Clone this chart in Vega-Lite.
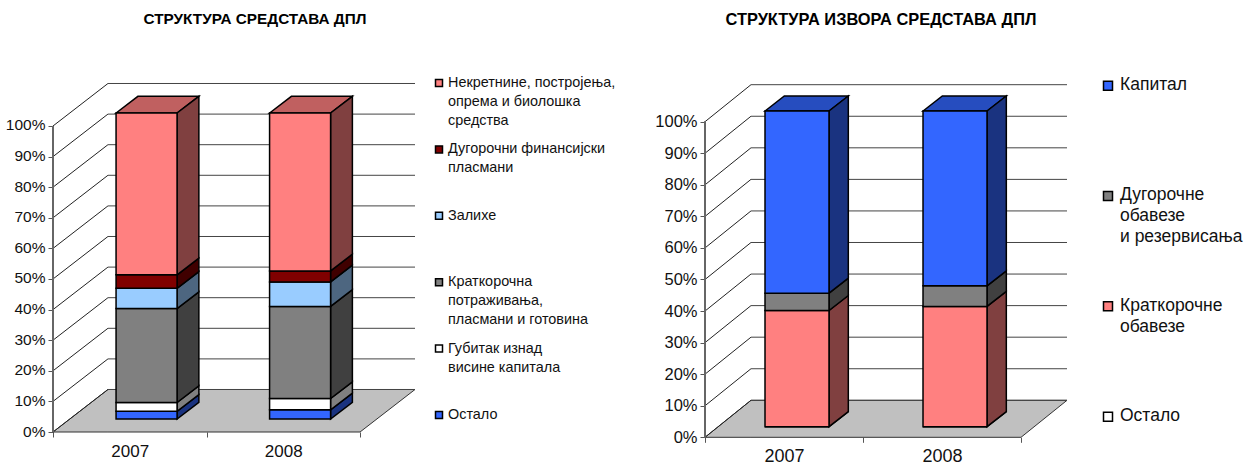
{
"$schema":"https://vega.github.io/schema/vega-lite/v6.json",
"padding":{"left":5,"top":12,"right":0,"bottom":10},
"background":"white",
"config":{"view":{"stroke":null},"font":"Liberation Sans","scale":{"continuousPadding":0},"axis":{"labelFont":"Liberation Sans","labelColor":"#111","tickColor":"#555","grid":false}},
"bounds":"flush",
"spacing":0,
"resolve":{"scale":{"fill":"independent"}},
"datasets":{
"assets":[
{"year":2007,"series":"Остало","rank":1,"value":2.5,"depth":[0,1]},
{"year":2007,"series":"Губитак изнад висине капитала","rank":2,"value":2.9,"depth":[0,1]},
{"year":2007,"series":"Краткорочна потраживања, пласмани и готовина","rank":3,"value":30.7,"depth":[0,1]},
{"year":2007,"series":"Залихе","rank":4,"value":6.6,"depth":[0,1]},
{"year":2007,"series":"Дугорочни финансијски пласмани","rank":5,"value":4.4,"depth":[0,1]},
{"year":2007,"series":"Некретнине, постројења, опрема и биолошка средства","rank":6,"value":52.9,"depth":[0,1]},
{"year":2008,"series":"Остало","rank":1,"value":3.0,"depth":[0,1]},
{"year":2008,"series":"Губитак изнад висине капитала","rank":2,"value":3.7,"depth":[0,1]},
{"year":2008,"series":"Краткорочна потраживања, пласмани и готовина","rank":3,"value":30.1,"depth":[0,1]},
{"year":2008,"series":"Залихе","rank":4,"value":8.0,"depth":[0,1]},
{"year":2008,"series":"Дугорочни финансијски пласмани","rank":5,"value":3.6,"depth":[0,1]},
{"year":2008,"series":"Некретнине, постројења, опрема и биолошка средства","rank":6,"value":51.6,"depth":[0,1]}
],
"sources":[
{"year":2007,"series":"Остало","rank":1,"value":0,"depth":[0,1]},
{"year":2007,"series":"Краткорочне обавезе","rank":2,"value":36.8,"depth":[0,1]},
{"year":2007,"series":"Дугорочне обавезе и резервисања","rank":3,"value":5.5,"depth":[0,1]},
{"year":2007,"series":"Капитал","rank":4,"value":57.7,"depth":[0,1]},
{"year":2008,"series":"Остало","rank":1,"value":0,"depth":[0,1]},
{"year":2008,"series":"Краткорочне обавезе","rank":2,"value":38.1,"depth":[0,1]},
{"year":2008,"series":"Дугорочне обавезе и резервисања","rank":3,"value":6.5,"depth":[0,1]},
{"year":2008,"series":"Капитал","rank":4,"value":55.4,"depth":[0,1]}
],
"grid":[{"pct":0,"depth":[0,1]},{"pct":10,"depth":[0,1]},{"pct":20,"depth":[0,1]},{"pct":30,"depth":[0,1]},{"pct":40,"depth":[0,1]},{"pct":50,"depth":[0,1]},{"pct":60,"depth":[0,1]},{"pct":70,"depth":[0,1]},{"pct":80,"depth":[0,1]},{"pct":90,"depth":[0,1]},{"pct":100,"depth":[0,1]}],
"floorA":[{"x":2006.5,"hi":0,"lo":0},{"x":2006.858,"hi":13.89,"lo":0},{"x":2008.5,"hi":13.89,"lo":0},{"x":2008.858,"hi":13.89,"lo":13.89}],
"floorB":[{"x":2006.5,"hi":0,"lo":0},{"x":2006.791,"hi":11.72,"lo":0},{"x":2008.5,"hi":11.72,"lo":0},{"x":2008.791,"hi":11.72,"lo":11.72}],
"topsA":[
{"bar":2007,"x":2006.911,"hi":104.25,"lo":104.25},{"bar":2007,"x":2007.053,"hi":109.7,"lo":104.25},{"bar":2007,"x":2007.308,"hi":109.7,"lo":104.25},{"bar":2007,"x":2007.45,"hi":109.7,"lo":109.7},
{"bar":2008,"x":2007.911,"hi":104.25,"lo":104.25},{"bar":2008,"x":2008.053,"hi":109.7,"lo":104.25},{"bar":2008,"x":2008.308,"hi":109.7,"lo":104.25},{"bar":2008,"x":2008.45,"hi":109.7,"lo":109.7}],
"topsB":[
{"bar":2007,"x":2006.88,"hi":103.39,"lo":103.39},{"bar":2007,"x":2007.002,"hi":108.15,"lo":103.39},{"bar":2007,"x":2007.285,"hi":108.15,"lo":103.39},{"bar":2007,"x":2007.407,"hi":108.15,"lo":108.15},
{"bar":2008,"x":2007.88,"hi":103.39,"lo":103.39},{"bar":2008,"x":2008.002,"hi":108.15,"lo":103.39},{"bar":2008,"x":2008.285,"hi":108.15,"lo":103.39},{"bar":2008,"x":2008.407,"hi":108.15,"lo":108.15}],
"legendA":[
{"series":"Некретнине, постројења, опрема и биолошка средства","label":"Некретнине, постројења,|опрема и биолошка|средства"},
{"series":"Дугорочни финансијски пласмани","label":"Дугорочни финансијски|  пласмани"},
{"series":"Залихе","label":"Залихе"},
{"series":"Краткорочна потраживања, пласмани и готовина","label":"Краткорочна|потраживања,|пласмани и готовина"},
{"series":"Губитак изнад висине капитала","label":"Губитак изнад|висине капитала"},
{"series":"Остало","label":"Остало"}],
"legendB":[
{"series":"Капитал","label":"Капитал"},
{"series":"Дугорочне обавезе и резервисања","label":"Дугорочне|обавезе|  и резервисања"},
{"series":"Краткорочне обавезе","label":"Краткорочне|обавезе"},
{"series":"Остало","label":"Остало"}]
},
"hconcat":[
{"width":362,"height":349,
"title":{"text":"СТРУКТУРА СРЕДСТАВА ДПЛ","fontSize":15.3,"fontWeight":"bold","font":"Liberation Sans","color":"#000","anchor":"middle","dx":21,"offset":54},
"resolve":{"axis":{"x":"independent","y":"independent"},"scale":{"fill":"independent"}},
"layer":[
{"data":{"name":"floorA"},"mark":{"type":"area","orient":"vertical","color":"#C0C0C0","stroke":"#333","strokeWidth":1},
"encoding":{"x":{"field":"x","type":"quantitative","scale":{"domain":[2006.5,2008.858],"nice":false,"zero":false},"axis":null},"y":{"field":"hi","type":"quantitative","scale":{"domain":[0,114.05],"nice":false},"axis":{"orient":"left","values":[0,10,20,30,40,50,60,70,80,90,100],"labelExpr":"datum.value+'%'","domain":false,"tickSize":5,"labelFontSize":15.5,"labelPadding":3,"labelOffset":-1,"title":null}},"y2":{"field":"lo"}}},
{"data":{"name":"grid"},"mark":{"type":"rule","color":"#444","strokeWidth":1,"xOffset":55,"yOffset":-42.5},
"encoding":{"x":{"datum":2006.5,"type":"quantitative","scale":{"domain":[2006.5,2008.858],"nice":false,"zero":false},"axis":null},"x2":{"datum":2008.858},"y":{"field":"pct","type":"quantitative","scale":{"domain":[0,114.05],"nice":false},"axis":null}}},
{"data":{"name":"grid"},"transform":[{"flatten":["depth"]},{"calculate":"2006.5+0.358*datum.depth","as":"gx"},{"calculate":"datum.pct+13.89*datum.depth","as":"gy"}],"mark":{"type":"line","color":"#222","strokeWidth":1},
"encoding":{"x":{"field":"gx","type":"quantitative","scale":{"domain":[2006.5,2008.858],"nice":false,"zero":false},"axis":null},"y":{"field":"gy","type":"quantitative","scale":{"domain":[0,114.05],"nice":false},"axis":null},"detail":{"field":"pct"}}},
{"data":{"name":"grid"},"mark":{"type":"rule","color":"#666","strokeWidth":1},
"encoding":{"x":{"datum":2006.5,"type":"quantitative","scale":{"domain":[2006.5,2008.858],"nice":false,"zero":false},"axis":{"orient":"bottom","values":[2006.5,2007.5,2008.5],"labels":false,"domain":false,"tickSize":5,"title":null}},"y":{"datum":0,"type":"quantitative","scale":{"domain":[0,114.05],"nice":false},"axis":null},"y2":{"datum":100}}},
{"data":{"name":"topsA"},"mark":{"type":"area","orient":"vertical","color":"#C06060","stroke":"#000","strokeWidth":1.5},
"encoding":{"x":{"field":"x","type":"quantitative","scale":{"domain":[2006.5,2008.858],"nice":false,"zero":false},"axis":null},"y":{"field":"hi","type":"quantitative","scale":{"domain":[0,114.05],"nice":false},"axis":null},"y2":{"field":"lo"},"detail":{"field":"bar"}}},
{"data":{"name":"assets"},"transform":[{"flatten":["depth"]},{"stack":"value","groupby":["year","depth"],"sort":[{"field":"rank"}],"as":["s0","s1"]},{"calculate":"datum.year+(47.3+21.8*datum.depth)/153.5","as":"sx"},{"calculate":"datum.s0+(13+16.7*datum.depth)/3.06","as":"lo"},{"calculate":"datum.s1+(13+16.7*datum.depth)/3.06","as":"hi"}],"mark":{"type":"area","orient":"vertical","stroke":"#000","strokeWidth":1.5},
"encoding":{"x":{"field":"sx","type":"quantitative","scale":{"domain":[2006.5,2008.858],"nice":false,"zero":false},"axis":null},"y":{"field":"hi","type":"quantitative","scale":{"domain":[0,114.05],"nice":false},"axis":null},"y2":{"field":"lo"},"fill":{"field":"series","type":"nominal","legend":null,"scale":{"domain":["Некретнине, постројења, опрема и биолошка средства","Дугорочни финансијски пласмани","Залихе","Краткорочна потраживања, пласмани и готовина","Губитак изнад висине капитала","Остало"],"range":["#804040","#400000","#4D6680","#404040","#808080","#1A3380"]}},"detail":{"field":"year"}}},
{"data":{"name":"assets"},"mark":{"type":"bar","orient":"vertical","width":61,"xOffset":16.8,"yOffset":-13,"stroke":"#000","strokeWidth":1.5},
"encoding":{"x":{"field":"year","type":"quantitative","scale":{"domain":[2006.5,2008.858],"nice":false,"zero":false},"axis":{"orient":"bottom","values":[2007,2008],"format":"d","domain":false,"tickSize":0,"labelFontSize":17,"labelPadding":11,"title":null}},"y":{"field":"value","type":"quantitative","stack":"zero","scale":{"domain":[0,114.05],"nice":false},"axis":null},"fill":{"field":"series","type":"nominal","legend":null,"scale":{"domain":["Некретнине, постројења, опрема и биолошка средства","Дугорочни финансијски пласмани","Залихе","Краткорочна потраживања, пласмани и готовина","Губитак изнад висине капитала","Остало"],"range":["#FF8080","#800000","#99CCFF","#808080","#FFFFFF","#3366FF"]}},"order":{"field":"rank"}}}
]},
{"width":290,"height":332,"data":{"name":"legendA"},
"layer":[
{"mark":{"type":"square","size":49,"stroke":"#000","strokeWidth":1.5,"opacity":1},
"encoding":{"x":{"value":24},"y":{"field":"series","type":"nominal","axis":null,"sort":null,"scale":{"type":"point","padding":0}},"fill":{"field":"series","type":"nominal","legend":null,"scale":{"domain":["Некретнине, постројења, опрема и биолошка средства","Дугорочни финансијски пласмани","Залихе","Краткорочна потраживања, пласмани и готовина","Губитак изнад висине капитала","Остало"],"range":["#FF8080","#800000","#99CCFF","#808080","#FFFFFF","#3366FF"]}}}},
{"mark":{"type":"text","lineBreak":"|","baseline":"top","align":"left","lineHeight":19,"fontSize":14.4,"dy":-7,"color":"#111","font":"Liberation Sans"},
"encoding":{"x":{"value":33},"y":{"field":"series","type":"nominal","axis":null,"sort":null,"scale":{"type":"point","padding":0}},"text":{"field":"label"}}}
]},
{"width":362,"height":354.3,
"title":{"text":"СТРУКТУРА ИЗВОРА СРЕДСТАВА ДПЛ","fontSize":16.4,"fontWeight":"bold","font":"Liberation Sans","color":"#000","anchor":"middle","dx":-5,"offset":54},
"resolve":{"axis":{"x":"independent","y":"independent"},"scale":{"fill":"independent"}},
"layer":[
{"data":{"name":"floorB"},"mark":{"type":"area","orient":"vertical","color":"#C0C0C0","stroke":"#333","strokeWidth":1},
"encoding":{"x":{"field":"x","type":"quantitative","scale":{"domain":[2006.5,2008.791],"nice":false,"zero":false},"axis":null},"y":{"field":"hi","type":"quantitative","scale":{"domain":[0,112.26],"nice":false},"axis":{"orient":"left","values":[0,10,20,30,40,50,60,70,80,90,100],"labelExpr":"datum.value+'%'","domain":false,"tickSize":5,"labelFontSize":16.5,"labelPadding":3,"title":null}},"y2":{"field":"lo"}}},
{"data":{"name":"grid"},"mark":{"type":"rule","color":"#444","strokeWidth":1,"xOffset":46,"yOffset":-37},
"encoding":{"x":{"datum":2006.5,"type":"quantitative","scale":{"domain":[2006.5,2008.791],"nice":false,"zero":false},"axis":null},"x2":{"datum":2008.791},"y":{"field":"pct","type":"quantitative","scale":{"domain":[0,112.26],"nice":false},"axis":null}}},
{"data":{"name":"grid"},"transform":[{"flatten":["depth"]},{"calculate":"2006.5+0.291*datum.depth","as":"gx"},{"calculate":"datum.pct+11.72*datum.depth","as":"gy"}],"mark":{"type":"line","color":"#222","strokeWidth":1},
"encoding":{"x":{"field":"gx","type":"quantitative","scale":{"domain":[2006.5,2008.791],"nice":false,"zero":false},"axis":null},"y":{"field":"gy","type":"quantitative","scale":{"domain":[0,112.26],"nice":false},"axis":null},"detail":{"field":"pct"}}},
{"data":{"name":"grid"},"mark":{"type":"rule","color":"#666","strokeWidth":1},
"encoding":{"x":{"datum":2006.5,"type":"quantitative","scale":{"domain":[2006.5,2008.791],"nice":false,"zero":false},"axis":{"orient":"bottom","values":[2006.5,2007.5,2008.5],"labels":false,"domain":false,"tickSize":5,"title":null}},"y":{"datum":0,"type":"quantitative","scale":{"domain":[0,112.26],"nice":false},"axis":null},"y2":{"datum":100}}},
{"data":{"name":"topsB"},"mark":{"type":"area","orient":"vertical","color":"#264DBF","stroke":"#000","strokeWidth":1.5},
"encoding":{"x":{"field":"x","type":"quantitative","scale":{"domain":[2006.5,2008.791],"nice":false,"zero":false},"axis":null},"y":{"field":"hi","type":"quantitative","scale":{"domain":[0,112.26],"nice":false},"axis":null},"y2":{"field":"lo"},"detail":{"field":"bar"}}},
{"data":{"name":"sources"},"transform":[{"flatten":["depth"]},{"stack":"value","groupby":["year","depth"],"sort":[{"field":"rank"}],"as":["s0","s1"]},{"calculate":"datum.year+(45+19.3*datum.depth)/158","as":"sx"},{"calculate":"datum.s0+(10.67+15*datum.depth)/3.156","as":"lo"},{"calculate":"datum.s1+(10.67+15*datum.depth)/3.156","as":"hi"}],"mark":{"type":"area","orient":"vertical","stroke":"#000","strokeWidth":1.5},
"encoding":{"x":{"field":"sx","type":"quantitative","scale":{"domain":[2006.5,2008.791],"nice":false,"zero":false},"axis":null},"y":{"field":"hi","type":"quantitative","scale":{"domain":[0,112.26],"nice":false},"axis":null},"y2":{"field":"lo"},"fill":{"field":"series","type":"nominal","legend":null,"scale":{"domain":["Капитал","Дугорочне обавезе и резервисања","Краткорочне обавезе","Остало"],"range":["#1A3380","#404040","#804040","#808080"]}},"detail":{"field":"year"}}},
{"data":{"name":"sources"},"mark":{"type":"bar","orient":"vertical","width":64,"xOffset":13,"yOffset":-10.67,"stroke":"#000","strokeWidth":1.5},
"encoding":{"x":{"field":"year","type":"quantitative","scale":{"domain":[2006.5,2008.791],"nice":false,"zero":false},"axis":{"orient":"bottom","values":[2007,2008],"format":"d","domain":false,"tickSize":0,"labelFontSize":18,"labelPadding":10,"title":null}},"y":{"field":"value","type":"quantitative","stack":"zero","scale":{"domain":[0,112.26],"nice":false},"axis":null},"fill":{"field":"series","type":"nominal","legend":null,"scale":{"domain":["Капитал","Дугорочне обавезе и резервисања","Краткорочне обавезе","Остало"],"range":["#3366FF","#808080","#FF8080","#FFFFFF"]}},"order":{"field":"rank"}}}
]},
{"width":188,"height":331,"data":{"name":"legendB"},
"layer":[
{"mark":{"type":"square","size":81,"stroke":"#000","strokeWidth":1.5,"opacity":1,"yOffset":2.7},
"encoding":{"x":{"value":41},"y":{"field":"series","type":"nominal","axis":null,"sort":null,"scale":{"type":"point","padding":0}},"fill":{"field":"series","type":"nominal","legend":null,"scale":{"domain":["Капитал","Дугорочне обавезе и резервисања","Краткорочне обавезе","Остало"],"range":["#3366FF","#808080","#FF8080","#FFFFFF"]}}}},
{"mark":{"type":"text","lineBreak":"|","baseline":"top","align":"left","lineHeight":21,"fontSize":17.5,"dy":-7,"color":"#111","font":"Liberation Sans"},
"encoding":{"x":{"value":53},"y":{"field":"series","type":"nominal","axis":null,"sort":null,"scale":{"type":"point","padding":0}},"text":{"field":"label"}}}
]}
]
}
